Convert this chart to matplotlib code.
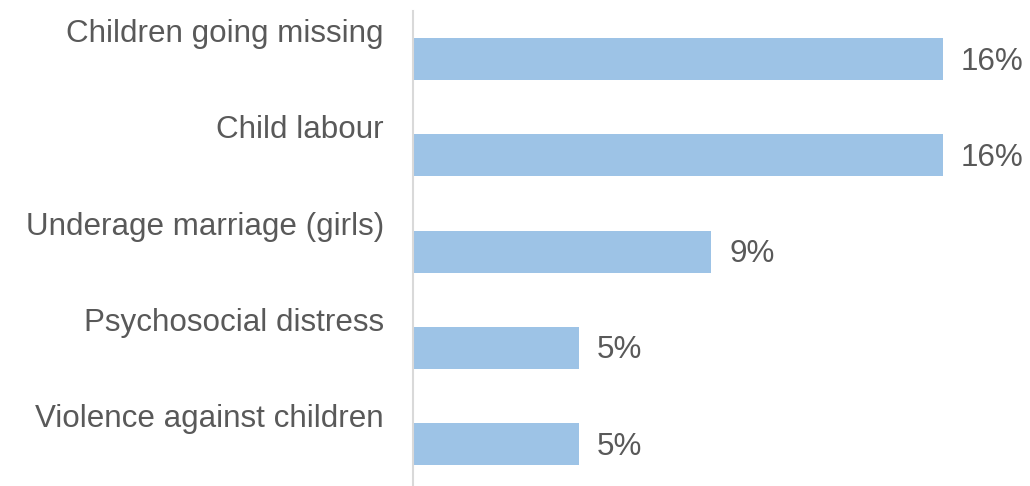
import matplotlib
matplotlib.use("Agg")
import matplotlib.pyplot as plt
from matplotlib.transforms import offset_copy, blended_transform_factory

categories = [
    "Children going missing",
    "Child labour",
    "Underage marriage (girls)",
    "Psychosocial distress",
    "Violence against children",
]
values = [16, 16, 9, 5, 5]
value_labels = ["16%", "16%", "9%", "5%", "5%"]

plt.rcParams["font.family"] = ["Liberation Sans", "DejaVu Sans"]
text_color = "#595959"
bar_color = "#9DC3E6"

fig = plt.figure(figsize=(10.30, 4.86), dpi=100)
W, H = 1030, 486
left_px, right_px, top_px, bottom_px = 413, 1010, 11, 486
ax = fig.add_axes([left_px / W, 1 - bottom_px / H,
                   (right_px - left_px) / W, (bottom_px - top_px) / H])

px_per_unit = 530 / 16
ax.set_xlim(0, (right_px - left_px) / px_per_unit)
ax.set_ylim(4.436, -0.499)

ypos = list(range(len(categories)))
ax.barh(ypos, values, height=0.436, color=bar_color, zorder=2)

for s in ["top", "right", "bottom"]:
    ax.spines[s].set_visible(False)
ax.spines["left"].set_color("#D9D9D9")
ax.spines["left"].set_linewidth(1.5)
ax.set_xticks([])
ax.set_yticks([])

label_tr = offset_copy(blended_transform_factory(ax.transAxes, ax.transData),
                       fig=fig, x=-29, y=0, units="dots")
for i, cat in enumerate(categories):
    ax.text(0, i - 0.175, cat, transform=label_tr, ha="right", va="baseline",
            fontsize=22.6, color=text_color)

val_tr = offset_copy(ax.transData, fig=fig, x=18, y=0, units="dots")
for i, (v, lab) in enumerate(zip(values, value_labels)):
    ax.text(v, i + 0.11, lab, transform=val_tr, ha="left", va="baseline",
            fontsize=22.6, color=text_color)

fig.savefig("out.png", dpi=100)
